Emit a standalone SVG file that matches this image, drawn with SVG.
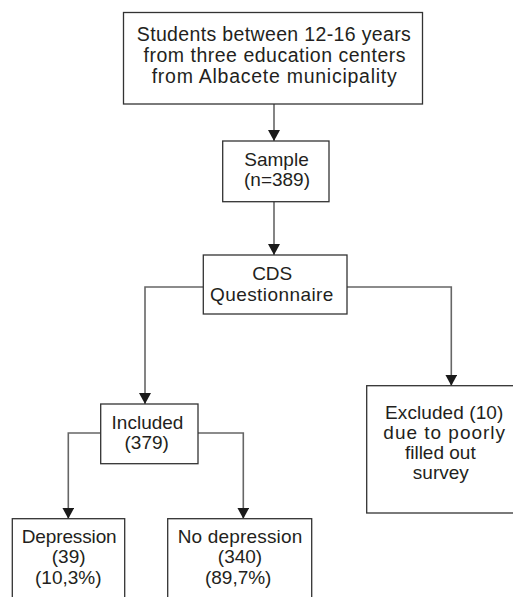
<svg xmlns="http://www.w3.org/2000/svg" width="513" height="597" viewBox="0 0 513 597">
<style>
.box{fill:#fff;stroke:#333;stroke-width:1.3}
.con{fill:none;stroke:#666;stroke-width:1.6}
text{font-family:"Liberation Sans",Arial,sans-serif;font-size:19px;fill:#231f20;text-anchor:middle}
.big{font-size:19.5px}
</style>
<defs>
<marker id="ah" viewBox="0 0 11 12" refX="11" refY="6" markerWidth="11" markerHeight="12" orient="auto" markerUnits="userSpaceOnUse">
<path d="M0,0 L11,6 L0,12 z" fill="#1a1a1a"/>
</marker>
</defs>
<rect width="513" height="597" fill="#fff"/>
<g id="connectors">
<path class="con" d="M274,104 V141" marker-end="url(#ah)"/>
<path class="con" d="M274,201.7 V255" marker-end="url(#ah)"/>
<path class="con" d="M203.3,287 H145 V404" marker-end="url(#ah)"/>
<path class="con" d="M347,287 H451.3 V385.7" marker-end="url(#ah)"/>
<path class="con" d="M100.7,433 H68.3 V518.7" marker-end="url(#ah)"/>
<path class="con" d="M198,433 H243.3 V518.7" marker-end="url(#ah)"/>
</g>
<g id="students">
<rect class="box" x="123.5" y="12.5" width="299" height="91.5"/>
<text class="big" x="273.8" y="40.7" textLength="274" lengthAdjust="spacing">Students between 12-16 years</text>
<text class="big" x="274.5" y="62.3" textLength="262" lengthAdjust="spacing">from three education centers</text>
<text class="big" x="274.2" y="83.3" textLength="245" lengthAdjust="spacing">from Albacete municipality</text>
</g>
<g id="sample">
<rect class="box" x="222.7" y="141" width="106.3" height="60.7"/>
<text x="276.5" y="165.5">Sample</text>
<text x="277" y="185.5">(n=389)</text>
</g>
<g id="cds">
<rect class="box" x="203.3" y="255" width="143.7" height="59"/>
<text x="272.2" y="280">CDS</text>
<text x="271.7" y="300.7" textLength="123.3" lengthAdjust="spacing">Questionnaire</text>
</g>
<g id="included">
<rect class="box" x="100.7" y="404" width="97.3" height="59.7"/>
<text x="147.5" y="428.7">Included</text>
<text x="146.7" y="448.7">(379)</text>
</g>
<g id="excluded">
<rect class="box" x="366.7" y="385.7" width="160" height="127.3"/>
<text x="444.2" y="419" textLength="118.3" lengthAdjust="spacing">Excluded (10)</text>
<text x="444.2" y="439" textLength="121.7" lengthAdjust="spacing">due to poorly</text>
<text x="440.3" y="459">filled out</text>
<text x="440.8" y="479">survey</text>
</g>
<g id="depression">
<rect class="box" x="12.3" y="518.7" width="112.4" height="100"/>
<text x="69.2" y="542.7" textLength="95" lengthAdjust="spacing">Depression</text>
<text x="68.7" y="563">(39)</text>
<text x="68.3" y="583.7">(10,3%)</text>
</g>
<g id="no-depression">
<rect class="box" x="167.7" y="518.7" width="144" height="100"/>
<text x="240" y="542.7" textLength="124.6" lengthAdjust="spacing">No depression</text>
<text x="240" y="563">(340)</text>
<text x="238.2" y="583.7">(89,7%)</text>
</g>
</svg>
